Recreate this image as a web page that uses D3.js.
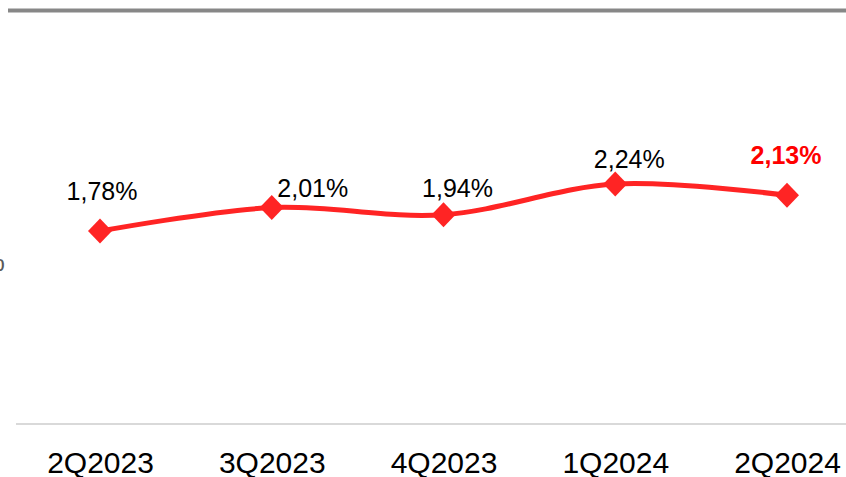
<!DOCTYPE html>
<html>
<head>
<meta charset="utf-8">
<script src="https://cdn.jsdelivr.net/npm/d3@7"></script>
<style>
  html, body { margin: 0; padding: 0; background: #fff; }
  svg { display: block; font-family: "Liberation Sans", Arial, sans-serif; }
</style>
</head>
<body>
<script>
// chart data
var quarters = ["2Q2023", "3Q2023", "4Q2023", "1Q2024", "2Q2024"];
var rates = [1.78, 2.01, 1.94, 2.24, 2.13];
var rateLabels = ["1,78%", "2,01%", "1,94%", "2,24%", "2,13%"];

// label nudges (layout only), in px
var labelDx = [2, 41, 14, 14, -1];
var labelDy = [-31, -11, -18, -16, -31];

var w = 846, h = 477;

var svg = d3.select("body").append("svg")
            .attr("width", w).attr("height", h);

// grey rule on top
svg.append("line")
   .attr("x1", 8).attr("x2", w).attr("y1", 10.5).attr("y2", 10.5)
   .style("stroke", "#878787").style("stroke-width", 4);

// cut-off axis title on the far left
svg.append("text")
   .attr("x", 5).attr("y", 271).attr("text-anchor", "end")
   .style("font-size", "28px").style("fill", "#595959")
   .text("%");

var x = d3.scalePoint().domain(quarters).range([100, 787]);
var y = d3.scaleLinear().domain([0, 4]).range([413, 4.2]);

// baseline
svg.append("line")
   .attr("x1", 16).attr("x2", w).attr("y1", 424).attr("y2", 424)
   .style("stroke", "#d9d9d9").style("stroke-width", 2);

// category labels
var xAxis = d3.axisBottom(x).tickSize(0).tickPadding(0);
var gx = svg.append("g").attr("transform", "translate(0,450)").call(xAxis);
gx.select(".domain").remove();
gx.selectAll("text")
  .attr("dy", 0).attr("y", 23)
  .style("font-size", "30px").style("fill", "#000")
  .style("font-family", "'Liberation Sans', Arial, sans-serif");

var pts = quarters.map(function(q, i){ return [x(q), y(rates[i])]; });

// smooth line
var line = d3.line().curve(d3.curveCatmullRom.alpha(0));
svg.append("path")
   .attr("d", line(pts))
   .style("fill", "none").style("stroke", "#ff2424").style("stroke-width", 5);

// diamond markers
svg.selectAll(".mk").data(pts).enter().append("path")
   .attr("class", "mk")
   .attr("transform", function(d){ return "translate(" + d[0] + "," + d[1] + ")"; })
   .attr("d", "M0,-12.5L12,0L0,12.5L-12,0Z")
   .style("fill", "#ff2424");

// value labels
svg.selectAll(".lbl").data(pts).enter().append("text")
   .attr("class", "lbl")
   .attr("x", function(d, i){ return d[0] + labelDx[i]; })
   .attr("y", function(d, i){ return d[1] + labelDy[i]; })
   .attr("text-anchor", "middle")
   .style("font-size", "25px")
   .style("font-weight", function(d, i){ return i == pts.length - 1 ? "bold" : "normal"; })
   .style("fill", function(d, i){ return i == pts.length - 1 ? "#ff0000" : "#000"; })
   .text(function(d, i){ return rateLabels[i]; });
</script>
</body>
</html>
